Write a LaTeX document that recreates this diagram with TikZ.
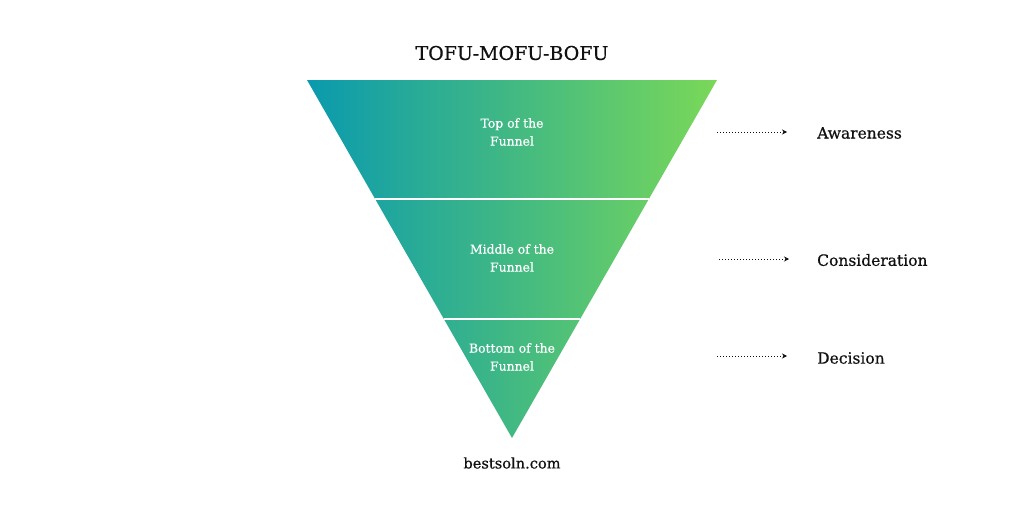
\documentclass[tikz,border=0pt]{standalone}
\usepackage{fontspec}
\setmainfont{DejaVu Serif}
\newfontfamily\heavyserif[FakeBold=0.6]{DejaVu Serif}
\newfontfamily\midserif[FakeBold=0.3]{DejaVu Serif}
\usetikzlibrary{arrows.meta}
\definecolor{funnelL}{HTML}{0A9AAE}
\definecolor{funnelR}{HTML}{7AD858}
\definecolor{inktext}{HTML}{111111}
\tikzset{
  sep/.style={draw=white, line width=1.6pt},
  intext/.style={text=white, align=center, font=\midserif\fontsize{12.4}{18}\selectfont, inner sep=0pt},
  stage/.style={text=inktext, anchor=west, font=\heavyserif\fontsize{15.5}{18}\selectfont, inner sep=0pt},
  flow/.style={dotted, line width=1pt, -{Stealth[length=5pt,width=5pt]}, inktext},
}
\begin{document}
\begin{tikzpicture}[x=1pt,y=-1pt]
\useasboundingbox[fill=white] (0,0) rectangle (1024,512);
% funnel
\coordinate (tl) at (307,80);
\coordinate (tr) at (717,80);
\coordinate (ap) at (512,438);
\shade[left color=funnelL, right color=funnelR] (tl) -- (tr) -- (ap) -- cycle;
\draw[sep] (375.3,199) -- (648.7,199);
\draw[sep] (443.9,319) -- (580.1,319);
% texts inside
\node[intext] (tofu) at (512,132) {Top of the\\Funnel};
\node[intext] (mofu) at (512,258) {Middle of the\\Funnel};
\node[intext] (bofu) at (512,357) {Bottom of the\\Funnel};
% title and footer
\node[text=inktext, font=\heavyserif\fontsize{19}{22}\selectfont] (title) at (512,53) {TOFU-MOFU-BOFU};
\node[text=inktext, font=\heavyserif\fontsize{14.6}{17}\selectfont] (site) at (512,463) {bestsoln.com};
% stage labels
\node[stage] (aw) at (817,133) {Awareness};
\node[stage] (co) at (817,260) {Consideration};
\node[stage] (de) at (817,358) {Decision};
\coordinate (a1) at (717,132);
\coordinate (a2) at (787,132);
\coordinate (c1) at (719,259);
\coordinate (c2) at (789,259);
\coordinate (d1) at (717,356);
\coordinate (d2) at (787,356);
\draw[flow] (a1) -- (a2);
\draw[flow] (c1) -- (c2);
\draw[flow] (d1) -- (d2);
\end{tikzpicture}
\end{document}
